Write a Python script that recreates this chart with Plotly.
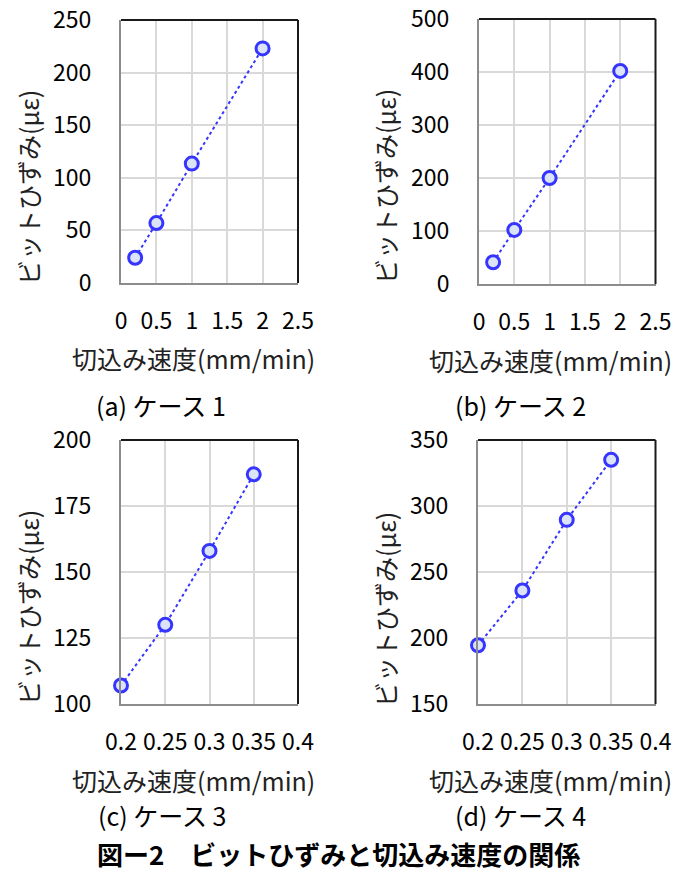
import plotly.graph_objects as go

W, H = 686, 872

# ---- data ----
speed_ab = [0.2, 0.5, 1.0, 2.0]
strain_a = [24, 57, 113.5, 223]
strain_b = [41, 102, 200, 402]
speed_cd = [0.2, 0.25, 0.3, 0.35]
strain_c = [107, 130, 158, 187]
strain_d = [194.5, 236, 289.5, 335]

x_title = "切込み速度(mm/min)"
y_title = "ビットひずみ(με)"
captions = ["(a) ケース 1", "(b) ケース 2", "(c) ケース 3", "(d) ケース 4"]
fig_title = "図ー2　ビットひずみと切込み速度の関係"

FONT = "Noto Sans CJK JP"
BLUE = "#3535ff"
FILL = "#dbe3f6"


def px_x(x):
    return x / W


def px_y(y):
    return 1 - y / H


# plot areas in pixels: (left, right, top, bottom)
areas = [
    (121, 298, 20, 283),
    (479, 655.5, 19, 284),
    (121, 298, 440, 704),
    (478, 655.5, 440, 704),
]
xranges = [(0, 2.5, 0.5), (0, 2.5, 0.5), (0.2, 0.4, 0.05), (0.2, 0.4, 0.05)]
yranges = [(0, 250, 50), (0, 500, 100), (100, 200, 25), (150, 350, 50)]
xs = [speed_ab, speed_ab, speed_cd, speed_cd]
ys = [strain_a, strain_b, strain_c, strain_d]

fig = go.Figure()
layout = {}
shapes = []
for i in range(4):
    n = "" if i == 0 else str(i + 1)
    l, r, t, b = areas[i]
    fig.add_trace(go.Scatter(
        x=xs[i], y=ys[i], mode="lines+markers",
        xaxis="x" + n, yaxis="y" + n,
        line=dict(color=BLUE, width=2, dash="dot"),
        marker=dict(size=13, color=FILL, line=dict(color=BLUE, width=3)),
        showlegend=False, cliponaxis=False, hoverinfo="skip",
    ))
    x0, x1, dx = xranges[i]
    y0, y1, dy = yranges[i]
    common = dict(
        automargin=False, showgrid=True, gridcolor="#d9d9d9", gridwidth=1.5,
        showline=True, linecolor="#8c8c8c", linewidth=2, mirror=False,
        zeroline=False, ticks="", ticklabeloverflow="allow",
        tickfont=dict(family=FONT, size=23, color="#000"),
    )
    layout["xaxis" + n] = dict(
        domain=[px_x(l), px_x(r)], anchor="y" + n,
        range=[x0, x1], dtick=dx, tick0=x0, ticklabelstandoff=16, **common,
    )
    layout["yaxis" + n] = dict(
        domain=[px_y(b), px_y(t)], anchor="x" + n,
        range=[y0, y1], dtick=dy, tick0=y0, ticklabelstandoff=23, **common,
    )
    xd = ("x" + n) + " domain"
    yd = ("y" + n) + " domain"
    shapes.append(dict(type="line", xref=xd, yref=yd, x0=0, x1=1, y0=1, y1=1,
                       line=dict(color="#1a1a1a", width=2)))
    shapes.append(dict(type="line", xref=xd, yref=yd, x0=1, x1=1, y0=0, y1=1,
                       line=dict(color="#1a1a1a", width=2)))

ann = []
xt_pos = [(193, 358), (550, 360), (193, 780), (550, 780)]
yt_pos = [(28, 188), (385, 186), (28, 608), (385, 609)]
cap_pos = [(161, 405), (520, 405), (162, 815), (520, 815)]
for i in range(4):
    ann.append(dict(x=px_x(xt_pos[i][0]), y=px_y(xt_pos[i][1]), xref="paper", yref="paper",
                    text=x_title, showarrow=False, xanchor="center", yanchor="middle",
                    borderpad=0, font=dict(family=FONT, size=25, color="#222")))
    ann.append(dict(x=px_x(yt_pos[i][0]), y=px_y(yt_pos[i][1]), xref="paper", yref="paper",
                    text=y_title, showarrow=False, textangle=-90, xanchor="center", yanchor="middle",
                    borderpad=0, font=dict(family=FONT, size=25, color="#222")))
    ann.append(dict(x=px_x(cap_pos[i][0]), y=px_y(cap_pos[i][1]), xref="paper", yref="paper",
                    text=captions[i], showarrow=False, xanchor="center", yanchor="middle",
                    borderpad=0, font=dict(family=FONT, size=25, color="#000")))
ann.append(dict(x=px_x(338), y=px_y(853), xref="paper", yref="paper",
                text="<b>" + fig_title + "</b>", showarrow=False, xanchor="center", yanchor="middle",
                borderpad=0, font=dict(family=FONT, size=26, color="#000")))

fig.update_layout(
    width=W, height=H, margin=dict(l=0, r=0, t=0, b=0, pad=0, autoexpand=False),
    paper_bgcolor="white", plot_bgcolor="white", hovermode=False,
    annotations=ann, shapes=shapes, font=dict(family=FONT), **layout,
)
fig.write_html("out.html", config={"displayModeBar": False},
               post_script="document.body.style.margin='0px';")
